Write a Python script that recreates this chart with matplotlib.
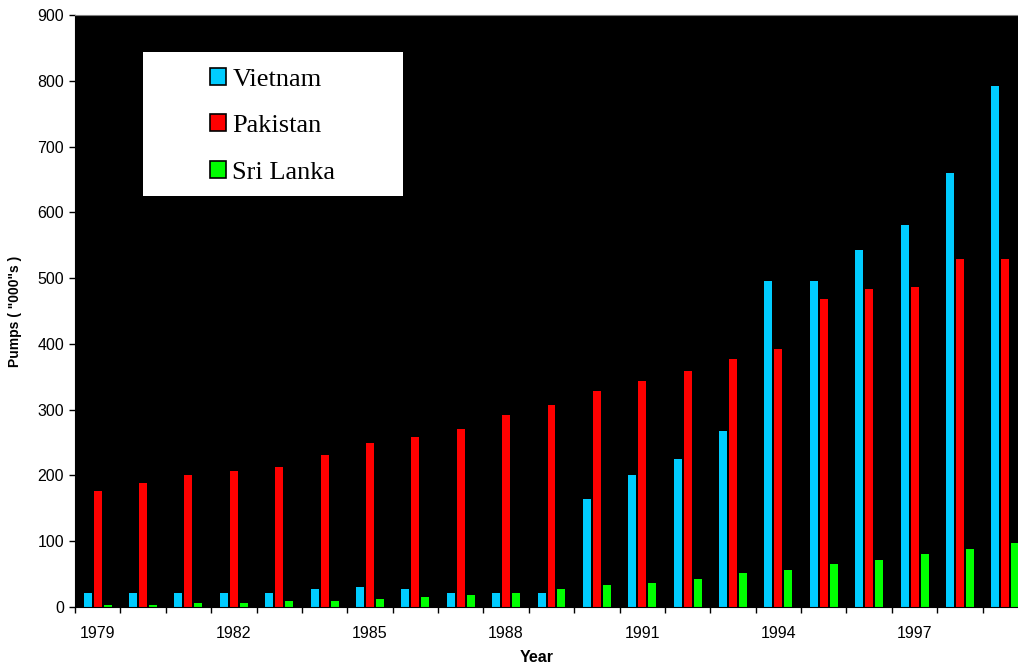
import numpy as np
import matplotlib
matplotlib.use("Agg")
import matplotlib.pyplot as plt
from matplotlib.patches import Rectangle, Patch

# data
years = list(range(1979, 2000))
vietnam = [21, 21, 21, 21, 21, 27, 30, 27, 21, 21, 21, 164, 200, 225, 267,
           496, 496, 542, 581, 660, 792]
pakistan = [176, 188, 200, 207, 213, 231, 249, 258, 270, 292, 307, 328, 343,
            359, 377, 392, 469, 484, 487, 529, 529]
sri_lanka = [3, 3, 6, 6, 9, 9, 12, 15, 18, 21, 27, 33, 36, 43, 52, 57, 66,
             72, 81, 88, 97]
series_names = ["Vietnam", "Pakistan", "Sri Lanka"]
colors = ["#00CCFF", "#FF0000", "#00FF00"]
label_years = [1979, 1982, 1985, 1988, 1991, 1994, 1997]

W, H = 1018, 670
fig = plt.figure(figsize=(W / 100, H / 100), dpi=100)
# plot area runs past the right edge of the picture, as in the original
ax = fig.add_axes([75 / W, 1 - 607 / H, 953 / W, 592 / H])
ax.set_facecolor("black")

x = np.arange(len(years))
step, bw = 0.22, 0.176
for k, (vals, c) in enumerate(zip([vietnam, pakistan, sri_lanka], colors)):
    ax.bar(x + (k - 1) * step, vals, width=bw, color=c, linewidth=0)

ax.set_xlim(-0.5, len(years) - 0.5)
ax.set_ylim(0, 900)
ax.set_yticks(range(0, 901, 100))

# tick marks at category boundaries, labels every third year
ax.set_xticks(np.arange(-0.5, len(years), 1.0))
ax.set_xticklabels([])
ax.set_xticks([years.index(y) for y in label_years], minor=True)
ax.set_xticklabels([str(y) for y in label_years], minor=True)
ax.tick_params(axis="x", which="major", direction="out", length=4, width=1)
ax.tick_params(axis="x", which="minor", length=0, pad=14)
ax.tick_params(axis="y", direction="out", length=4, width=1, pad=4)
for lab in ax.get_xticklabels(minor=True) + ax.get_yticklabels():
    lab.set_fontfamily("Liberation Sans")
    lab.set_fontsize(11.5)

ax.spines["top"].set_color("#808080")
ax.spines["right"].set_visible(False)
ax.spines["left"].set_color("black")
ax.spines["bottom"].set_color("black")

fig.text(537 / W, 1 - 657 / H, "Year", ha="center", va="center",
         fontfamily="Liberation Sans", fontweight="bold", fontsize=11.5)
fig.text(15 / W, 1 - 311 / H, 'Pumps ( "000"s )', ha="center", va="center",
         rotation=90, fontfamily="Liberation Sans", fontweight="bold", fontsize=10)

# legend box
fig.patches.append(Rectangle((143 / W, 1 - 196 / H), 260 / W, 144 / H,
                             transform=fig.transFigure, facecolor="white",
                             edgecolor="none", zorder=2))
handles = [Patch(facecolor=c, edgecolor="black", linewidth=1.2) for c in colors]
fig.legend(handles, series_names, loc="upper left",
           bbox_to_anchor=(210 / W, 1 - 68 / H), frameon=False,
           prop={"family": "Liberation Serif", "size": 19},
           handlelength=0.6, handleheight=0.6, handletextpad=0.25,
           labelspacing=0.9, borderpad=0, borderaxespad=0)

fig.savefig("out.png", dpi=100)
